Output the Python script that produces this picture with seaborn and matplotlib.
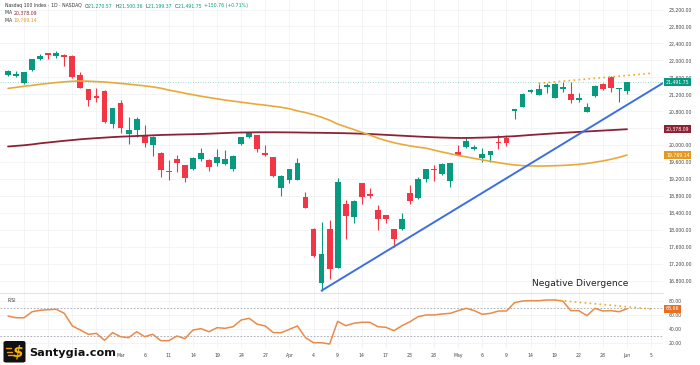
import numpy as np
import pandas as pd
import matplotlib
matplotlib.use("Agg")
import matplotlib.pyplot as plt
import matplotlib.transforms as mtransforms
from matplotlib.patches import FancyBboxPatch, Rectangle
from matplotlib.lines import Line2D
import seaborn as sns

# ---------------- data ----------------
dates = pd.bdate_range("2025-02-10", "2025-06-06", freq="C",
                       holidays=["2025-02-17", "2025-04-18", "2025-05-26"])

opens = [21664, 21632, 21460, 21774, 22033, 22167, 22112, 22135, 22112, 21664,
         21318, 21169, 21279, 20501, 20988, 20265, 20360, 20242, 19998, 19825,
         19401, 19668, 19535, 19440, 19668, 19653, 19574, 19558, 19448, 20030,
         20187, 20242, 19810, 19715, 18985, 19181, 19181, 18773, 18018, 16761,
         18026, 17115, 18615, 18301, 19103, 18843, 18474, 18356, 18018, 18018,
         18867, 18749, 19197, 19433, 19315, 19165, 19849, 19967, 19912, 19692,
         19770, 20084, 20163, 20807, 20894, 21247, 21184, 21365, 21121, 21326,
         21216, 21066, 20791, 21169, 21451, 21616, 21318, 21270.57]
highs = [21774, 21758, 21735, 22041, 22143, 22182, 22214, 22150, 22120, 21719,
         21325, 21342, 21302, 20884, 21067, 20674, 20674, 20478, 20210, 19840,
         19653, 19770, 19545, 19731, 19935, 19668, 19912, 19888, 19765, 20200,
         20320, 20250, 20006, 19731, 19290, 19440, 19692, 18891, 18042, 18199,
         18238, 19220, 18710, 18710, 19110, 18985, 18592, 18360, 18025, 18395,
         19063, 19260, 19440, 19535, 19574, 19580, 20006, 20163, 20006, 19927,
         19870, 20241, 20241, 20860, 21239, 21318, 21436, 21459, 21475, 21499,
         21499, 21239, 20988, 21420, 21475, 21632, 21345, 21500.36]
lows = [21640, 21617, 21444, 21758, 22010, 22041, 22049, 21876, 21585, 21342,
        20933, 21027, 20525, 20399, 20281, 20037, 20203, 19967, 19747, 19244,
        19181, 19378, 19142, 19417, 19637, 19393, 19511, 19535, 19401, 20010,
        20180, 19849, 19755, 19244, 18804, 19102, 19170, 18513, 17374, 16573,
        16848, 17100, 17790, 18160, 18615, 18749, 18003, 18160, 17610, 18010,
        18615, 18740, 19142, 19166, 19299, 19024, 19760, 19927, 19888, 19613,
        19613, 19904, 19982, 20611, 20890, 21224, 21180, 21239, 21115, 21263,
        21004, 21027, 20776, 21145, 21302, 21263, 21027, 21199.37]
closes = [21750, 21687, 21719, 22025, 22112, 22135, 22167, 22072, 21601, 21342,
          21067, 21122, 20540, 20870, 20415, 20360, 20627, 20045, 20195, 19417,
          19362, 19590, 19228, 19700, 19810, 19480, 19731, 19676, 19755, 20187,
          20305, 19904, 19770, 19275, 19283, 19433, 19574, 18520, 17390, 17429,
          17083, 19142, 18333, 18694, 18788, 18812, 18254, 18254, 17790, 18262,
          18686, 19197, 19433, 19409, 19550, 19574, 19770, 20100, 19967, 19786,
          19865, 20061, 20061, 20854, 21200, 21310, 21318, 21420, 21436, 21381,
          21066, 21114, 20909, 21404, 21318, 21341, 21341, 21491.75]

ma200 = [19970, 19985, 20000, 20020, 20046, 20065, 20085, 20105, 20122, 20141,
         20155, 20168, 20180, 20192, 20202, 20210, 20218, 20226, 20234, 20242,
         20247, 20252, 20256, 20260, 20265, 20272, 20280, 20288, 20296, 20300,
         20303, 20305, 20306, 20306, 20305, 20303, 20301, 20298, 20295, 20293,
         20290, 20287, 20283, 20278, 20272, 20265, 20255, 20245, 20235, 20225,
         20215, 20205, 20196, 20188, 20181, 20176, 20172, 20172, 20175, 20180,
         20186, 20194, 20204, 20214, 20228, 20242, 20255, 20268, 20281, 20292,
         20303, 20314, 20325, 20336, 20346, 20357, 20367, 20378.09]
ma50 = [21340, 21365, 21390, 21412, 21437, 21458, 21478, 21495, 21508, 21515,
        21510, 21500, 21490, 21475, 21458, 21440, 21420, 21400, 21375, 21345,
        21300, 21265, 21225, 21190, 21155, 21125, 21095, 21065, 21040, 21015,
        20990, 20965, 20945, 20920, 20895, 20860, 20810, 20770, 20720, 20660,
        20590, 20500, 20435, 20370, 20305, 20240, 20170, 20110, 20060, 20020,
        19985, 19955, 19930, 19885, 19840, 19800, 19760, 19725, 19690, 19655,
        19620, 19590, 19560, 19535, 19520, 19512, 19510, 19512, 19518, 19525,
        19535, 19550, 19570, 19600, 19630, 19670, 19715, 19769.14]
rsi = [58.4, 56.0, 56.0, 64.5, 66.5, 67.3, 67.9, 62.2, 44.4, 38.7,
       32.6, 34.0, 24.2, 35.0, 29.3, 27.9, 36.3, 29.3, 32.7, 23.7,
       23.7, 30.3, 26.5, 38.7, 40.6, 36.3, 42.0, 41.1, 43.4, 52.8,
       55.2, 46.8, 44.4, 35.0, 35.0, 39.7, 44.4, 27.9, 20.8, 20.8,
       19.0, 51.0, 44.8, 48.2, 49.6, 49.6, 43.4, 42.5, 37.8, 44.8,
       50.4, 57.5, 59.9, 59.9, 61.3, 62.2, 66.0, 69.3, 66.0, 60.8,
       62.2, 65.5, 65.5, 77.2, 79.6, 80.0, 80.0, 81.0, 81.0, 79.6,
       66.0, 66.0, 58.9, 69.3, 65.5, 66.0, 64.5, 68.66]

price_ticks = list(range(16800, 23201, 400))
rsi_ticks = [20, 40, 60, 80]
rsi_levels = [70, 30]
# divergence / trend anchors
trend_low_dates = ["2025-04-07", "2025-04-21"]
price_div = [("2025-05-15", 21460), ("2025-06-05", 21696)]
rsi_div = [("2025-05-19", 81.0), ("2025-06-05", 68.3)]

# ---------------- style ----------------
GREEN = "#089981"
RED = "#F23645"
MAROON = "#8C2234"
GOLD = "#E8A93A"
BLUE = "#3C6FE0"
RSI_C = "#EA8A48"
DIV_C = "#F5A623"

sns.set_theme(style="white")
plt.rcParams["font.family"] = ["DejaVu Sans"]

W, H = 700, 365
fig = plt.figure(figsize=(W / 100, H / 100), dpi=100)
fig.patch.set_facecolor("white")


def fx(x):
    return x / W


def fy(y):
    return 1 - y / H


ax = fig.add_axes([0, fy(293), fx(663), 293 / H])
ax2 = fig.add_axes([0, fy(349), fx(663), (349 - 293) / H], sharex=ax)

n = len(closes)
idx = np.arange(n)
pos = {d.strftime("%Y-%m-%d"): i for i, d in enumerate(dates)}

o = np.array(opens, float)
c = np.array(closes, float)
h = np.array(highs, float)
l = np.array(lows, float)
up = c >= o
cols = np.where(up, GREEN, RED)

# grid ticks every 3 bars; February labels sit under the watermark logo
tick_idx = list(range(2, len(dates), 3))
tick_lab = []
seen = set()
for i in tick_idx:
    d = dates[i]
    if d.month == 2:
        tick_lab.append("")
    elif d.month not in seen:
        seen.add(d.month)
        tick_lab.append(d.strftime("%b"))
    else:
        tick_lab.append(str(d.day))

for a in (ax, ax2):
    a.set_facecolor("white")
    a.set_xticks(tick_idx)
    a.grid(True, color="#f1f2f5", lw=0.6)
    a.set_axisbelow(True)
    for s in a.spines.values():
        s.set_visible(False)

# candles
ax.vlines(idx, l, h, colors=cols, lw=0.8, zorder=2)
body_h = np.maximum(np.abs(c - o), 22)
ax.bar(idx, body_h, bottom=np.minimum(o, c), width=0.72, color=cols, lw=0, zorder=3)

# moving averages
sns.lineplot(x=idx, y=ma200, ax=ax, color=MAROON, lw=1.3, zorder=4)
sns.lineplot(x=idx, y=ma50, ax=ax, color=GOLD, lw=1.2, zorder=4)

# last price line
ax.axhline(closes[-1], color=GREEN, lw=0.6, ls=(0, (1, 2)), alpha=0.5, zorder=1)

# trend line through the two lows, extended to the right edge
i1, i2 = pos[trend_low_dates[0]], pos[trend_low_dates[1]]
slope = (lows[i2] - lows[i1]) / (i2 - i1)
xe = 81.6
sns.lineplot(x=[i1, xe], y=[lows[i1], lows[i1] + slope * (xe - i1)], ax=ax,
             color=BLUE, lw=1.4, zorder=5)

# price divergence dotted
ax.plot([pos[price_div[0][0]], pos[price_div[1][0]]], [price_div[0][1], price_div[1][1]],
        color=DIV_C, lw=1.2, ls=(0, (1, 2)), zorder=5)

ax.set_xlim(-1, 81.47)
ax.set_ylim(16517, 23424)
ax.yaxis.tick_right()
ax.set_yticks(price_ticks)
# the 20,400 label is hidden behind the MA marker box
ax.set_yticklabels(["" if abs(v - ma200[-1]) < 150 else f"{v:,.2f}" for v in price_ticks])
ax.tick_params(axis="y", length=0, labelsize=3.3, labelcolor="#444", pad=4)
ax.tick_params(axis="x", length=0, labelbottom=False)

blend = mtransforms.blended_transform_factory(ax.transAxes, ax.transData)
for val, colr in [(closes[-1], GREEN), (ma200[-1], MAROON), (ma50[-1], "#E39A1E")]:
    ax.text(1.0 + 3 / 663, val, f"{val:,.2f}", transform=blend, ha="left", va="center",
            fontsize=3.3, color="white",
            bbox=dict(boxstyle="square,pad=0.35", fc=colr, ec="none"), zorder=10, clip_on=False)

# ---------------- RSI ----------------
sns.lineplot(x=idx, y=rsi, ax=ax2, color=RSI_C, lw=1.1, zorder=4)
for lv in rsi_levels:
    ax2.axhline(lv, color="#9ea2ad", lw=0.6, ls=(0, (2, 2)), zorder=2)
ax2.plot([pos[rsi_div[0][0]], pos[rsi_div[1][0]]], [rsi_div[0][1], rsi_div[1][1]],
         color=DIV_C, lw=1.2, ls=(0, (1, 2)), zorder=5)
ax2.set_ylim(11.97, 90.85)
ax2.yaxis.tick_right()
ax2.set_yticks(rsi_ticks)
ax2.set_yticklabels([f"{v:.2f}" for v in rsi_ticks])
ax2.tick_params(axis="y", length=0, labelsize=3.3, labelcolor="#444", pad=4)
ax2.set_xticklabels(tick_lab)
ax2.tick_params(axis="x", length=0, labelsize=3.3, labelcolor="#444", pad=3)
ax2.spines["top"].set_visible(True)
ax2.spines["top"].set_color("#e0e3eb")
ax2.spines["top"].set_linewidth(0.8)
blend2 = mtransforms.blended_transform_factory(ax2.transAxes, ax2.transData)
ax2.text(1.0 + 3 / 663, rsi[-1], f"{rsi[-1]:.2f}", transform=blend2, ha="left", va="center",
         fontsize=3.3, color="white",
         bbox=dict(boxstyle="square,pad=0.35", fc="#EC6D1C", ec="none"), zorder=10, clip_on=False)

# ---------------- texts ----------------
t = fig.text(fx(5), fy(6), "Nasdaq 100 Index · 1D · NASDAQ  ", fontsize=3.3, color="#333",
             va="center", ha="left")
pieces = [("O", "#333"), ("21,270.57  ", GREEN), ("H", "#333"), ("21,500.36  ", GREEN),
          ("L", "#333"), ("21,199.37  ", GREEN), ("C", "#333"), ("21,491.75  ", GREEN),
          ("+150.76 (+0.71%)", GREEN)]
prev = t
for s, colr in pieces:
    prev = ax.annotate(s, xy=(1, 0), xycoords=prev, va="bottom", ha="left",
                       fontsize=3.3, color=colr, annotation_clip=False)
t = fig.text(fx(5), fy(13), "MA ", fontsize=3.3, color="#333", va="center", ha="left")
ax.annotate(f"{ma200[-1]:,.2f}", xy=(1, 0), xycoords=t, va="bottom", fontsize=3.3, color=MAROON)
t = fig.text(fx(5), fy(20), "MA ", fontsize=3.3, color="#333", va="center", ha="left")
ax.annotate(f"{ma50[-1]:,.2f}", xy=(1, 0), xycoords=t, va="bottom", fontsize=3.3, color="#E39A1E")

t = fig.text(fx(8), fy(300), "RSI ", fontsize=3.3, color="#333", va="center", ha="left")
ax.annotate(f"{rsi[-1]:.2f}", xy=(1, 0), xycoords=t, va="bottom", fontsize=3.3, color=RSI_C)

fig.text(fx(580), fy(283), "Negative Divergence", fontsize=6.6, color="#222",
         ha="center", va="center")

# ---------------- logo ----------------
fig.patches.append(Rectangle((0, fy(365)), fx(114), (365 - 350) / H, transform=fig.transFigure,
                             fc="white", ec="none", zorder=20))
fig.patches.append(FancyBboxPatch((fx(3.5), fy(362.5)), fx(22), 21.5 / H,
                                  boxstyle="round,pad=0,rounding_size=0.004",
                                  transform=fig.transFigure, fc="#111", ec="none", zorder=21))
for k, yy in enumerate([348, 351.5, 355]):
    fig.lines.append(Line2D([fx(6 + k), fx(11 + k)], [fy(yy), fy(yy)], transform=fig.transFigure,
                            color="#F29A12", lw=1.0, zorder=22))
fig.text(fx(17.5), fy(352), "$", fontsize=11, fontweight="bold", color="#F5B400",
         ha="center", va="center", style="italic", zorder=23)
fig.text(fx(29), fy(353), "Santygia.com", fontsize=8.1, fontweight="bold", color="#111",
         ha="left", va="center", zorder=23)

fig.savefig("out.png", dpi=100, facecolor="white")
